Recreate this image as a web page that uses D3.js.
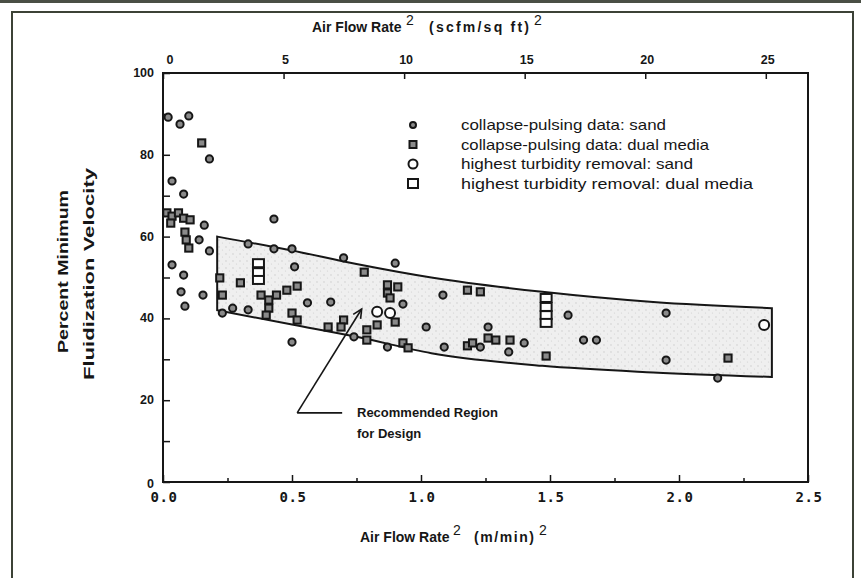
<!DOCTYPE html>
<html><head><meta charset="utf-8">
<script src="https://cdn.jsdelivr.net/npm/d3@7"></script>
<style>
html,body{margin:0;padding:0;background:#fff;}
svg{display:block;}
text{font-family:"Liberation Sans",Arial,sans-serif;fill:#161616;}
</style></head>
<body>
<svg id="chart" width="861" height="578"></svg>
<script>
// ---- data ----
const sandCollapse = [
 [0.02,89.2],[0.066,87.5],[0.10,89.5],[0.18,79.0],[0.035,73.6],[0.08,70.4],[0.16,62.8],[0.43,64.3],
 [0.14,59.2],[0.18,56.5],[0.035,53.1],[0.08,50.6],[0.07,46.5],[0.085,43.0],[0.155,45.7],[0.23,41.3],
 [0.27,42.5],[0.33,42.1],[0.33,58.2],[0.43,57.0],[0.50,57.0],[0.51,52.6],[0.56,43.8],[0.65,44.0],
 [0.50,34.2],[0.70,54.8],[0.90,53.5],[0.93,43.5],[0.74,35.5],[0.87,33.0],[1.02,37.9],[1.085,45.7],
 [1.09,33.0],[1.26,37.9],[1.23,33.0],[1.40,34.0],[1.34,31.8],[1.57,40.8],[1.63,34.7],[1.68,34.7],
 [1.95,41.3],[1.95,29.8],[2.15,25.4]
];
const dualCollapse = [
 [0.15,82.9],[0.015,65.8],[0.035,65.0],[0.06,65.8],[0.08,64.5],[0.105,64.1],[0.03,63.3],
 [0.085,61.1],[0.09,59.2],[0.10,57.2],[0.22,49.9],[0.23,45.7],[0.30,48.7],
 [0.38,45.7],[0.41,44.5],[0.44,45.7],[0.48,46.9],[0.52,47.9],[0.41,42.5],[0.40,40.8],
 [0.50,41.3],[0.52,39.6],[0.64,37.9],[0.70,39.6],[0.69,37.9],[0.78,51.3],
 [0.87,48.2],[0.87,46.2],[0.91,47.7],[0.88,45.0],[0.83,38.4],[0.90,39.1],[0.79,37.2],[0.79,34.7],
 [0.93,34.0],[0.95,32.8],[1.18,46.9],[1.23,46.5],[1.26,35.2],[1.18,33.3],[1.20,34.0],
 [1.29,34.7],[1.345,34.7],[1.485,30.8],[2.19,30.3]
];
const sandBest = [[0.83,41.6],[0.88,41.3],[2.33,38.4]];
const dualBest = [[0.37,53.5],[0.37,51.3],[0.37,49.4],[1.485,45.0],[1.485,42.8],[1.485,40.8],[1.485,38.9]];
const bandUpper = [[0.21,60],[0.5,56.6],[0.75,53.3],[1.04,50.0],[1.47,46.5],[1.9,44.0],[2.36,42.5]];
const bandLower = [[0.21,42],[0.5,38.5],[0.72,35.5],[1.04,31.5],[1.47,28.4],[1.9,26.8],[2.36,25.7]];
const xTicks = [0,0.5,1.0,1.5,2.0,2.5];
const xTopTicks = [0,5,10,15,20,25];
const yTicks = [0,20,40,60,80,100];
const legendLabels = ["collapse-pulsing data:  sand","collapse-pulsing data:  dual media","highest turbidity removal:  sand","highest turbidity removal:  dual media"];
const annotation = {from:[0.52,16.9], to:[0.77,42.3], lines:["Recommended Region","for Design"]};

// ---- drawing ----
const svg = d3.select("#chart");
const L=163,R=808,T=73,B=482;
const x = d3.scaleLinear().domain([0,2.5]).range([L,R]);
const xTop = d3.scaleLinear().domain([0,2.5*10.7]).range([L,R]);
const y = d3.scaleLinear().domain([0,100]).range([B,T]);
const ink="#161616";

// outer frame
svg.append("rect").attr("x",0).attr("y",0).attr("width",861).attr("height",3).attr("fill","#4a4f45");
svg.append("path").attr("d","M12,578 V12 H853 V578").attr("fill","none").attr("stroke","#3c4236").attr("stroke-width",2);

// band
const defs = svg.append("defs");
const pat = defs.append("pattern").attr("id","stip").attr("width",7).attr("height",7).attr("patternUnits","userSpaceOnUse");
pat.append("rect").attr("width",7).attr("height",7).attr("fill","#efefef");
pat.append("circle").attr("cx",2).attr("cy",2).attr("r",0.7).attr("fill","#c8c8c8");
pat.append("circle").attr("cx",5.5).attr("cy",5).attr("r",0.6).attr("fill","#d2d2d2");
const area = d3.area().x(d=>x(d[0])).y0(d=>y(d[2])).y1(d=>y(d[1])).curve(d3.curveMonotoneX);
const bandData = bandUpper.map((d,i)=>[d[0],d[1],bandLower[i][1]]);
svg.append("path").attr("d",area(bandData)).attr("fill","url(#stip)").attr("stroke",ink).attr("stroke-width",2).attr("stroke-linejoin","miter");

// axes frame
svg.append("rect").attr("x",L).attr("y",T).attr("width",R-L).attr("height",B-T).attr("fill","none").attr("stroke",ink).attr("stroke-width",2);

const gB = svg.append("g").attr("transform",`translate(0,${B})`)
  .call(d3.axisBottom(x).tickValues(d3.range(0,2.51,0.25)).tickSize(-6).tickFormat(""));
gB.selectAll(".tick line").attr("stroke",ink).attr("stroke-width",1.5).attr("y2",(d)=> (Math.abs(d*2-Math.round(d*2))<1e-6)?-7:-4);
gB.select(".domain").remove();
svg.append("g").selectAll("text").data(xTicks).join("text")
  .attr("x",d=>x(d)+1).attr("y",B+20).attr("text-anchor","middle")
  .style("font-family","'DejaVu Sans Mono',monospace").style("font-weight","bold").style("font-size","14px").style("letter-spacing","0.5px")
  .text(d=>d.toFixed(1));

const gT = svg.append("g").attr("transform",`translate(0,${T})`)
  .call(d3.axisTop(xTop).tickValues(xTopTicks).tickSize(-6).tickFormat(""));
gT.selectAll(".tick line").attr("stroke",ink).attr("stroke-width",1.5);
gT.select(".domain").remove();
svg.append("g").selectAll("text").data(xTopTicks).join("text")
  .attr("x",d=>xTop(d)+(d===0?7:2)).attr("y",T-9).attr("text-anchor","middle")
  .style("font-weight","bold").style("font-size","12.5px").text(d=>d);

const gL = svg.append("g").attr("transform",`translate(${L},0)`)
  .call(d3.axisLeft(y).tickValues(d3.range(0,101,10)).tickSize(-7).tickFormat(""));
gL.selectAll(".tick line").attr("stroke",ink).attr("stroke-width",1.5);
gL.select(".domain").remove();
svg.append("g").selectAll("text").data(yTicks).join("text")
  .attr("x",L-9).attr("y",d=>y(d)+4+(d===0?2:0)).attr("text-anchor","end")
  .style("font-weight","bold").style("font-size","12.5px").text(d=>d);

// axis titles (positioned pieces)
function piece(x0, y0, str, size, w, weight, adj){
  const t = svg.append("text").attr("x",x0).attr("y",y0).style("font-size",size+"px").style("font-weight",weight||"bold").text(str);
  if(w) t.attr("textLength",w).attr("lengthAdjust",adj||"spacing");
  return t;
}
piece(312,32,"Air Flow Rate",14,null);
piece(406,25,"2",14,null,"normal");
piece(429,32,"(scfm/sq ft)",14,100,"bold","spacing");
piece(534,25,"2",14,null,"normal");

piece(360,542,"Air Flow Rate",14,null);
piece(453,535,"2",14,null,"normal");
piece(474,542,"(m/min)",14,60,"bold","spacing");
piece(539,535,"2",14,null,"normal");

svg.append("text").attr("transform","translate(68,353) rotate(-90)")
  .style("font-size","15.5px").style("font-weight","bold").attr("textLength",163).attr("lengthAdjust","spacingAndGlyphs").text("Percent  Minimum");
svg.append("text").attr("transform","translate(94,380) rotate(-90)")
  .style("font-size","15.5px").style("font-weight","bold").attr("textLength",212).attr("lengthAdjust","spacingAndGlyphs").text("Fluidization  Velocity");

// markers
function drawSeries(data, type){
  const g = svg.append("g");
  data.forEach(d=>{
    const cx=x(d[0]), cy=y(d[1]);
    if(type==="sandC") g.append("circle").attr("cx",cx).attr("cy",cy).attr("r",3.6).attr("fill","#8a8a8a").attr("stroke",ink).attr("stroke-width",2);
    if(type==="dualC") g.append("rect").attr("x",cx-3.6).attr("y",cy-3.6).attr("width",7.2).attr("height",7.2).attr("fill","#8a8a8a").attr("stroke",ink).attr("stroke-width",2);
    if(type==="sandB") g.append("circle").attr("cx",cx).attr("cy",cy).attr("r",5).attr("fill","#fff").attr("stroke",ink).attr("stroke-width",2);
    if(type==="dualB") g.append("rect").attr("x",cx-5.5).attr("y",cy-4).attr("width",11).attr("height",8).attr("fill","#fff").attr("stroke",ink).attr("stroke-width",2);
  });
}
drawSeries(sandCollapse,"sandC");
drawSeries(dualCollapse,"dualC");
drawSeries(sandBest,"sandB");
drawSeries(dualBest,"dualB");

// legend
const types=["sandC","dualC","sandB","dualB"];
const legendW=[205,248,232,292];
const lg = svg.append("g");
legendLabels.forEach((lab,i)=>{
  const ly = 125 + i*19.5, lx=413;
  const t=types[i];
  if(t==="sandC") lg.append("circle").attr("cx",lx).attr("cy",ly).attr("r",3).attr("fill","#8a8a8a").attr("stroke",ink).attr("stroke-width",2);
  if(t==="dualC") lg.append("rect").attr("x",lx-3.5).attr("y",ly-3.5).attr("width",7).attr("height",7).attr("fill","#8a8a8a").attr("stroke",ink).attr("stroke-width",2);
  if(t==="sandB") lg.append("circle").attr("cx",lx).attr("cy",ly).attr("r",4.5).attr("fill","#fff").attr("stroke",ink).attr("stroke-width",2);
  if(t==="dualB") lg.append("rect").attr("x",lx-5).attr("y",ly-4.5).attr("width",10).attr("height",9).attr("fill","#fff").attr("stroke",ink).attr("stroke-width",2);
  lg.append("text").attr("x",461).attr("y",ly+5).style("font-size","14.5px")
    .attr("textLength",legendW[i]).attr("lengthAdjust","spacingAndGlyphs").text(lab);
});

// annotation
const ax1=x(annotation.from[0]), ay1=y(annotation.from[1]), ax2=x(annotation.to[0]), ay2=y(annotation.to[1]);
svg.append("line").attr("x1",ax1).attr("y1",ay1).attr("x2",ax2).attr("y2",ay2).attr("stroke",ink).attr("stroke-width",1.6);
const ang=Math.atan2(ay2-ay1,ax2-ax1);
const hl=10, hw=0.45;
svg.append("path").attr("d",`M${ax2-hl*Math.cos(ang-hw)},${ay2-hl*Math.sin(ang-hw)} L${ax2},${ay2} L${ax2-hl*Math.cos(ang+hw)},${ay2-hl*Math.sin(ang+hw)}`)
  .attr("fill","none").attr("stroke",ink).attr("stroke-width",1.6);
svg.append("line").attr("x1",ax1).attr("y1",ay1).attr("x2",ax1+45).attr("y2",ay1).attr("stroke",ink).attr("stroke-width",1.6);
annotation.lines.forEach((ln,i)=>{
  svg.append("text").attr("x",357).attr("y",ay1+4+i*21).style("font-size","13px").style("font-weight","bold").text(ln);
});
</script>
</body></html>
